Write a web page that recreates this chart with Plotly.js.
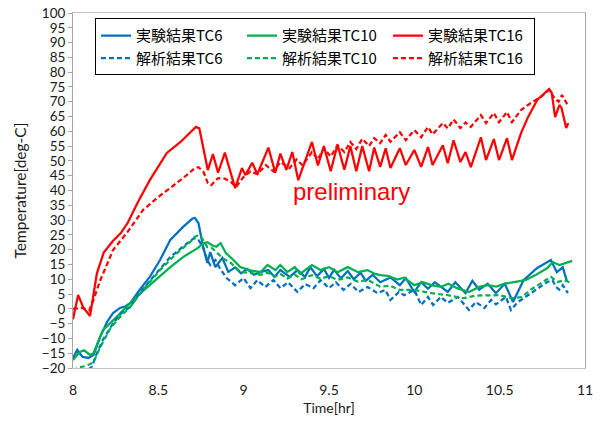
<!DOCTYPE html>
<html><head><meta charset="utf-8">
<script src="https://cdn.plot.ly/plotly-3.0.1.min.js"></script>
<style>html,body{margin:0;padding:0;background:#fff}</style>
</head><body><div id="chart" style="width:603px;height:423px"></div>
<script>
// 実験結果TC6 (blue solid)
const tExp6 = [8.000,8.025,8.055,8.090,8.120,8.160,8.200,8.235,8.275,8.305,8.335,8.390,8.450,8.510,8.570,8.645,8.700,8.715,8.735,8.763,8.787,8.804,8.834,8.875,8.910,8.950,8.985,9.020,9.060,9.100,9.145,9.180,9.215,9.270,9.315,9.360,9.390,9.430,9.470,9.500,9.530,9.570,9.610,9.645,9.685,9.715,9.755,9.800,9.860,9.915,9.950,10.000,10.040,10.080,10.120,10.196,10.240,10.300,10.340,10.380,10.430,10.478,10.530,10.578,10.640,10.720,10.800,10.835,10.870,10.895];
const vExp6 = [-16.6,-13.9,-16.2,-16.6,-15.6,-9.4,-4.4,-1.4,0.3,0.8,1.9,6.4,10.8,16.5,23.3,27.7,30.5,30.7,29.0,20.9,15.5,19.2,14.1,17.2,12.5,14.0,12.0,13.5,11.5,12.5,13.1,10.8,13.1,10.8,13.1,10.8,14.1,11.0,13.5,10.5,13.2,10.3,12.8,10.0,12.2,9.5,11.5,9.0,10.6,8.0,10.4,5.7,9.0,6.8,9.0,5.7,9.0,5.3,9.5,6.5,8.5,5.3,8.5,2.3,9.7,13.8,16.5,12.4,14.1,9.1];
// 実験結果TC10 (green solid)
const tExp10 = [8.000,8.040,8.065,8.100,8.120,8.175,8.255,8.370,8.470,8.570,8.645,8.730,8.765,8.787,8.815,8.840,8.865,8.895,8.940,8.980,9.040,9.100,9.140,9.186,9.215,9.256,9.300,9.330,9.400,9.450,9.500,9.550,9.610,9.670,9.726,9.770,9.800,9.850,9.900,9.940,10.000,10.050,10.100,10.155,10.200,10.250,10.320,10.380,10.430,10.480,10.530,10.600,10.650,10.710,10.780,10.810,10.850,10.925];
const vExp10 = [-17.3,-14.6,-14.0,-15.6,-15.0,-7.2,-2.8,4.0,9.0,14.1,17.5,20.5,22.2,22.5,21.5,21.0,22.2,18.9,16.5,14.1,13.0,12.4,14.8,13.1,14.8,12.4,14.1,11.8,14.8,13.1,14.1,12.4,14.1,12.4,13.1,11.8,11.4,11.1,9.9,10.5,8.0,9.0,8.0,7.4,8.5,7.0,5.7,7.4,8.0,7.5,8.5,9.1,9.7,11.4,13.8,15.8,14.8,16.2];
// 実験結果TC16 (red solid)
const tExp16 = [8.000,8.030,8.060,8.100,8.140,8.180,8.235,8.280,8.320,8.380,8.450,8.550,8.630,8.700,8.720,8.740,8.790,8.820,8.850,8.890,8.950,8.990,9.010,9.050,9.080,9.145,9.185,9.215,9.250,9.285,9.320,9.400,9.435,9.470,9.510,9.550,9.590,9.625,9.660,9.695,9.735,9.765,9.800,9.832,9.860,9.915,9.950,10.000,10.040,10.080,10.107,10.167,10.196,10.230,10.270,10.300,10.331,10.390,10.420,10.466,10.496,10.543,10.572,10.625,10.666,10.720,10.780,10.790,10.805,10.825,10.850,10.862,10.890,10.902];
const vExp16 = [-3.5,4.7,0.5,-2.4,12.0,19.0,23.0,25.6,29.0,36.0,43.5,52.7,56.4,60.2,61.5,61.0,46.9,52.3,46.0,52.8,40.8,47.6,45.2,49.4,45.5,54.5,46.0,52.5,47.0,53.0,43.5,56.4,48.5,55.0,46.5,55.5,47.0,55.0,46.5,55.0,46.5,54.5,48.0,54.3,47.6,54.3,48.6,53.7,48.0,54.7,48.6,55.3,49.2,57.0,49.6,53.0,47.9,58.0,50.3,57.4,50.3,57.7,50.3,59.4,64.8,70.6,73.8,74.3,73.0,64.8,68.9,68.0,61.1,62.8];
// 解析結果TC6 (blue dashed)
const tAna6 = [8.090,8.110,8.140,8.175,8.235,8.290,8.335,8.390,8.470,8.570,8.670,8.710,8.735,8.760,8.787,8.804,8.834,8.860,8.900,8.950,9.000,9.040,9.080,9.127,9.174,9.215,9.260,9.315,9.360,9.410,9.450,9.500,9.540,9.585,9.626,9.674,9.726,9.785,9.830,9.860,9.910,9.940,10.000,10.040,10.080,10.110,10.155,10.196,10.255,10.320,10.360,10.410,10.450,10.478,10.537,10.566,10.607,10.666,10.725,10.780,10.810,10.830,10.850,10.870,10.900];
const vAna6 = [-20.5,-19.6,-15.0,-10.5,-4.9,-1.0,0.6,5.3,10.8,17.5,22.2,23.9,23.3,21.0,16.5,14.8,16.5,13.8,10.4,8.0,10.4,7.0,9.7,7.4,9.7,7.0,9.0,5.7,8.4,7.0,9.7,7.0,9.0,6.4,8.4,5.7,7.4,5.3,6.4,3.0,5.7,4.6,6.4,1.3,4.0,1.3,4.0,2.0,4.0,-0.4,2.3,0.3,3.0,1.5,4.0,-0.4,2.3,4.6,7.0,9.1,9.7,7.4,6.5,8.0,5.3];
// 解析結果TC10 (green dashed)
const tAna10 = [8.000,8.030,8.080,8.120,8.160,8.220,8.275,8.335,8.410,8.510,8.610,8.685,8.710,8.735,8.760,8.787,8.815,8.846,8.880,8.925,8.980,9.050,9.100,9.140,9.186,9.215,9.256,9.300,9.340,9.400,9.450,9.500,9.550,9.610,9.670,9.726,9.800,9.860,9.910,10.000,10.100,10.196,10.290,10.360,10.430,10.500,10.570,10.630,10.680,10.740,10.800,10.840,10.880,10.920];
const vAna10 = [-21.0,-19.8,-19.3,-18.0,-12.9,-6.5,-2.8,0.6,6.4,13.1,18.9,22.5,24.2,24.9,23.5,20.9,20.5,18.9,17.0,15.5,12.5,12.0,11.5,12.2,11.0,11.8,10.3,11.5,10.0,11.4,10.2,11.0,9.8,10.6,9.2,9.8,7.5,7.8,6.4,6.4,5.3,4.6,3.6,4.5,4.6,4.6,3.6,4.0,6.4,8.7,10.8,9.1,9.7,8.7];
// 解析結果TC16 (red dashed)
const tAna16 = [8.000,8.050,8.095,8.120,8.160,8.235,8.320,8.410,8.500,8.570,8.645,8.715,8.735,8.765,8.790,8.810,8.850,8.890,8.925,8.955,9.000,9.040,9.080,9.130,9.175,9.215,9.270,9.310,9.345,9.400,9.435,9.470,9.510,9.550,9.590,9.625,9.660,9.695,9.735,9.765,9.800,9.832,9.860,9.915,9.950,10.000,10.040,10.080,10.107,10.167,10.196,10.230,10.270,10.300,10.331,10.390,10.420,10.466,10.496,10.543,10.572,10.625,10.680,10.740,10.790,10.820,10.845,10.865,10.902];
const vAna16 = [0.0,0.3,-0.5,3.0,9.7,19.9,26.0,33.4,37.8,40.8,44.2,47.6,47.9,46.2,42.5,41.8,44.2,44.0,42.9,41.2,44.6,46.5,45.5,48.6,46.5,49.6,47.6,50.5,48.5,53.0,50.5,54.3,51.5,55.3,53.0,56.4,54.0,57.5,55.0,57.7,56.0,58.8,56.5,59.7,57.0,60.4,58.0,61.5,59.0,62.8,61.0,64.0,61.1,63.0,61.5,65.5,62.8,66.2,63.1,66.5,63.1,67.2,69.5,71.6,74.0,71.3,70.0,72.3,68.5];

const seriesNames = ['実験結果TC6','実験結果TC10','実験結果TC16','解析結果TC6','解析結果TC10','解析結果TC16'];
const xTicks = [8, 8.5, 9, 9.5, 10, 10.5, 11];
const xTickText = ['8','8.5','9','9.5','10','10.5','11'];

const BLUE = '#0070C0', GREEN = '#00B050', RED = '#FF0000';
const DASH = '5px,3px';
const W = 2.25;
const xs = [tExp6, tExp10, tExp16, tAna6, tAna10, tAna16];
const ys = [vExp6, vExp10, vExp16, vAna6, vAna10, vAna16];
const colors = [BLUE, GREEN, RED, BLUE, GREEN, RED];
const dashes = ['solid','solid','solid',DASH,DASH,DASH];

const traces = seriesNames.map((n, i) => ({
  type: 'scatter', mode: 'lines', name: n,
  x: xs[i], y: ys[i],
  line: {color: colors[i], width: W, dash: dashes[i]},
  hoverinfo: 'skip'
}));

const layout = {
  width: 603, height: 423,
  margin: {l: 73, r: 18, t: 13, b: 55},
  paper_bgcolor: '#fff', plot_bgcolor: '#fff',
  font: {family: 'Lato, "Noto Sans CJK JP", sans-serif', size: 13, color: '#1a1a1a'},
  showlegend: true,
  xaxis: {
    range: [8, 11], tickvals: xTicks, ticktext: xTickText,
    showgrid: false, zeroline: false, showline: true, mirror: true,
    linecolor: '#bfbfbf', linewidth: 1, ticks: '', ticklabelstandoff: 9,
    tickfont: {size: 14},
    title: {text: 'Time[hr]', font: {size: 14}, standoff: 6}
  },
  xaxis2: {
    overlaying: 'x', anchor: 'free', position: 20/120, side: 'bottom',
    range: [8, 11], tickvals: xTicks,
    showgrid: false, zeroline: false, showline: true, linecolor: '#bfbfbf', linewidth: 1,
    ticks: 'outside', ticklen: 5, tickcolor: '#bfbfbf', showticklabels: false
  },
  yaxis: {
    range: [-20, 100], dtick: 5, tick0: 0,
    showgrid: false, zeroline: false, showline: true, mirror: true,
    linecolor: '#a6a6a6', linewidth: 1, ticks: 'outside', ticklen: 4, tickcolor: '#a6a6a6',
    tickfont: {size: 13.5},
    title: {text: 'Temperature[deg-C]', font: {size: 15.5}, standoff: 11}
  },
  legend: {
    orientation: 'h', x: 0.043, xanchor: 'left', y: 0.985, yanchor: 'top',
    bgcolor: '#fff', bordercolor: '#000', borderwidth: 1,
    font: {family: '"Noto Sans CJK JP", sans-serif', size: 15, color: '#000'},
    entrywidth: 101, entrywidthmode: 'pixels', traceorder: 'normal'
  },
  annotations: [{
    text: 'preliminary', x: 9.63, y: 39.5, xref: 'x', yref: 'y', showarrow: false,
    font: {family: '"Liberation Sans", Arial, sans-serif', size: 24, color: RED}
  }]
};

Plotly.newPlot('chart', traces, layout, {displayModeBar: false, staticPlot: true});
</script></body></html>
